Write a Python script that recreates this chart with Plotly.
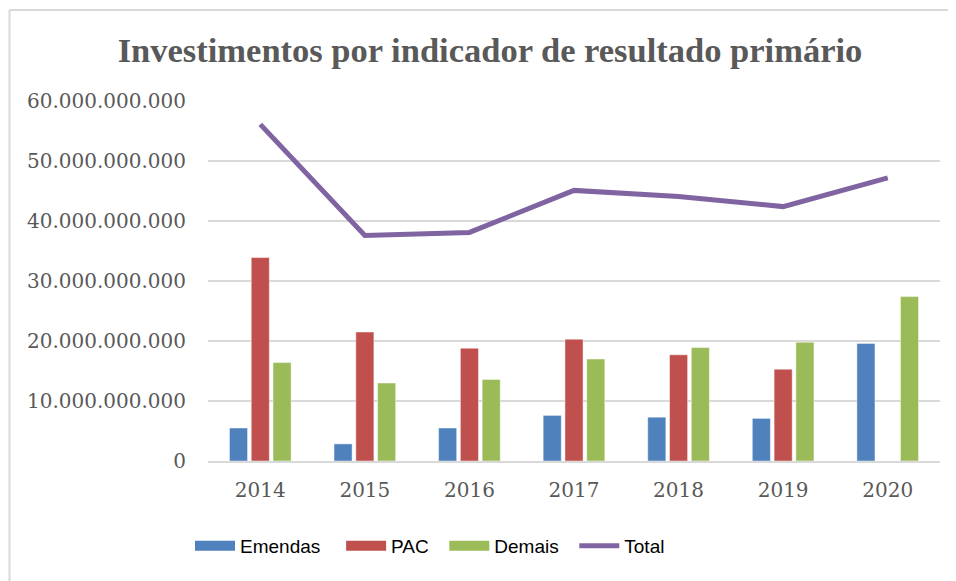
import plotly.graph_objects as go

years = ["2014", "2015", "2016", "2017", "2018", "2019", "2020"]
emendas = [5.5e9, 2.85e9, 5.5e9, 7.6e9, 7.3e9, 7.1e9, 19.6e9]
pac = [33.9e9, 21.5e9, 18.8e9, 20.3e9, 17.7e9, 15.3e9, 0]
demais = [16.4e9, 13.0e9, 13.6e9, 17.0e9, 18.9e9, 19.8e9, 27.4e9]
total = [56.1e9, 37.6e9, 38.1e9, 45.1e9, 44.1e9, 42.4e9, 47.2e9]
ytickvals = [0, 10e9, 20e9, 30e9, 40e9, 50e9, 60e9]
yticktext = ["0", "10.000.000.000", "20.000.000.000", "30.000.000.000",
             "40.000.000.000", "50.000.000.000", "60.000.000.000"]

OFF = 8  # default body margin of the html page
W, H = 956 - OFF, 581 - OFF
L, R, T, B = 208 - OFF, 16, 101 - OFF, 120
pw, ph = W - L - R, H - T - B

def px_x(p):
    return (p - OFF - L) / pw

def px_y(p):
    return (H - B - (p - OFF)) / ph

C_EM, C_PAC, C_DEM, C_TOT = "#4F81BD", "#C0504D", "#9BBB59", "#8064A2"
NB = "\u00a0"

fig = go.Figure()
bar_line = dict(color="rgba(255,255,255,0.45)", width=1)
fig.add_trace(go.Bar(name="Emendas", x=years, y=emendas, showlegend=False,
                     marker=dict(color=C_EM, line=bar_line)))
fig.add_trace(go.Bar(name="PAC", x=years, y=pac, showlegend=False,
                     marker=dict(color=C_PAC, line=bar_line)))
fig.add_trace(go.Bar(name="Demais", x=years, y=demais, showlegend=False,
                     marker=dict(color=C_DEM, line=bar_line)))
fig.add_trace(go.Scatter(name="Total", x=years, y=total, mode="lines", showlegend=False,
                         line=dict(color=C_TOT, width=5)))

# legend entries (wide swatches like the original)
for name, pad, col, w in [("Emendas", 3, C_EM, 14), ("PAC", 2, C_PAC, 14),
                          ("Demais", 2, C_DEM, 14), ("Total", 0, C_TOT, 5)]:
    fig.add_trace(go.Scatter(name=name + NB * pad, x=[None], y=[None], mode="lines",
                             line=dict(color=col, width=w), showlegend=True, hoverinfo="skip"))

fig.update_layout(
    width=W, height=H,
    margin=dict(l=L, r=R, t=T, b=B),
    paper_bgcolor="white", plot_bgcolor="white",
    barmode="group", bargap=0.375, bargroupgap=0.17,
    title=dict(text="<b>Investimentos por indicador de resultado primário</b>",
               x=(490 - OFF) / W, xref="container", xanchor="center",
               y=1 - (50 - OFF) / H, yref="container", yanchor="middle",
               font=dict(family="Liberation Serif", size=34.5, color="#595959")),
    xaxis=dict(showgrid=False, showline=True, linecolor="#D9D9D9", linewidth=2,
               ticks="", tickfont=dict(family="DejaVu Serif", size=20, color="#595959"),
               ticklabelstandoff=10),
    yaxis=dict(range=[0, 60e9], tickvals=ytickvals, ticktext=yticktext,
               showgrid=True, gridcolor="#D9D9D9", gridwidth=1.5, zeroline=False,
               showline=False, ticks="",
               tickfont=dict(family="DejaVu Serif", size=20, color="#595959"),
               ticklabelstandoff=21),
    legend=dict(orientation="h", x=px_x(190), xanchor="left", y=px_y(546), yanchor="middle",
                font=dict(family="Liberation Sans", size=19, color="#000000"),
                itemwidth=40, traceorder="normal", tracegroupgap=0),
    shapes=[
        dict(type="line", xref="paper", yref="paper", x0=px_x(9.5), x1=px_x(9.5),
             y0=px_y(10), y1=px_y(600), line=dict(color="#D9D9D9", width=2)),
        dict(type="line", xref="paper", yref="paper", x0=px_x(9.5), x1=px_x(980),
             y0=px_y(10), y1=px_y(10), line=dict(color="#D9D9D9", width=2)),
    ],
)

fig.write_html("out.html")
